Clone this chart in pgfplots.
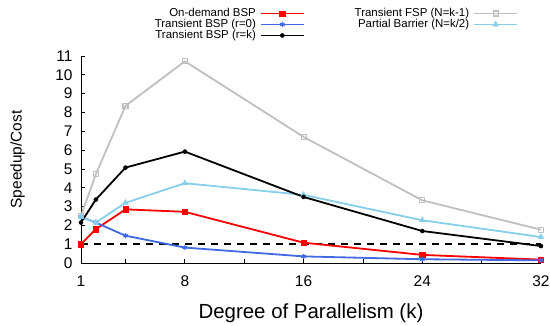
\documentclass[border=0pt]{standalone}
\usepackage{pgfplots}
\pgfplotsset{compat=1.18}
\usepackage{fontspec}
\setmainfont{Liberation Sans}
\definecolor{cred}{RGB}{255,0,0}
\definecolor{cblue}{RGB}{65,105,225}
\definecolor{cgray}{RGB}{192,192,192}
\definecolor{csky}{RGB}{135,206,235}
\begin{document}
\begin{tikzpicture}
\begin{axis}[
  scale only axis,
  width=460bp, height=207bp,
  xmin=1, xmax=32, ymin=0, ymax=11,
  axis lines=left,
  axis line style={-, line width=0.8bp},
  xtick={1,8,16,24,32},
  minor xtick={4,12,20,28},
  ytick={0,1,...,11},
  tick align=inside,
  major tick length=4bp, minor tick length=4bp,
  tick style={line width=0.8bp, black},
  /pgf/number format/assume math mode=true,
  tick label style={font=\fontsize{15.5}{16}\selectfont},
  xticklabel style={yshift=-9bp},
  yticklabel style={xshift=-5bp},
  xlabel={Degree of Parallelism (k)},
  ylabel={Speedup/Cost},
  xlabel style={font=\fontsize{20.5}{22}\selectfont, at={(axis description cs:0.5,-0.266)}, anchor=base},
  ylabel style={font=\fontsize{15.5}{17}\selectfont, at={(axis description cs:-0.138,0.5)}, anchor=center},
  legend columns=2,
  legend plot pos=right,
  legend cell align=right,
  legend style={at={(0.95,1.232)}, anchor=north east, draw=none, fill=none,
    inner sep=0pt, outer sep=0pt,
    font=\fontsize{11.5}{12}\selectfont,
    nodes={inner sep=0pt, text height=8.5bp, text depth=2.5bp},
    column sep=4bp,
    /tikz/every even column/.append style={column sep=50bp}},
  legend image code/.code={\draw[mark repeat=2,mark phase=2] plot coordinates {(0bp,0bp) (21.5bp,0bp) (43bp,0bp)};},
  every axis plot/.append style={line width=1.8bp},
]
\coordinate (O) at (rel axis cs:0,0);
\addplot[black, dash pattern=on 7bp off 6bp, forget plot] coordinates {(1,1) (32,1)};
\addplot[cred, mark=square*, mark size=2.7bp, mark options={solid, line width=0.5bp}] coordinates {(1,1.0) (2,1.8) (4,2.85) (8,2.72) (16,1.08) (24,0.43) (32,0.18)};
\addlegendentry{On-demand BSP}
\addplot[cgray, mark=square, mark size=2.5bp, mark options={solid, line width=1.1bp}] coordinates {(1,2.5) (2,4.72) (4,8.35) (8,10.72) (16,6.7) (24,3.33) (32,1.77)};
\addlegendentry{Transient FSP (N=k-1)}
\addplot[cblue, mark=asterisk, mark size=2.6bp, mark options={solid, line width=1.1bp}] coordinates {(1,2.45) (2,2.15) (4,1.45) (8,0.82) (16,0.35) (24,0.2) (32,0.14)};
\addlegendentry{Transient BSP (r=0)}
\addplot[csky, mark=triangle*, mark size=3.3bp, mark options={solid, line width=0.5bp}] coordinates {(1,2.45) (2,2.15) (4,3.2) (8,4.24) (16,3.62) (24,2.27) (32,1.38)};
\addlegendentry{Partial Barrier (N=k/2)}
\addplot[black, mark=*, mark size=2.0bp, mark options={solid, line width=0.5bp}] coordinates {(1,2.15) (2,3.37) (4,5.07) (8,5.92) (16,3.51) (24,1.70) (32,0.9)};
\addlegendentry{Transient BSP (r=k)}
\end{axis}
\pgfresetboundingbox
\path (O) ++(-81bp,-63bp) rectangle ++(550bp,326bp);
\end{tikzpicture}
\end{document}
